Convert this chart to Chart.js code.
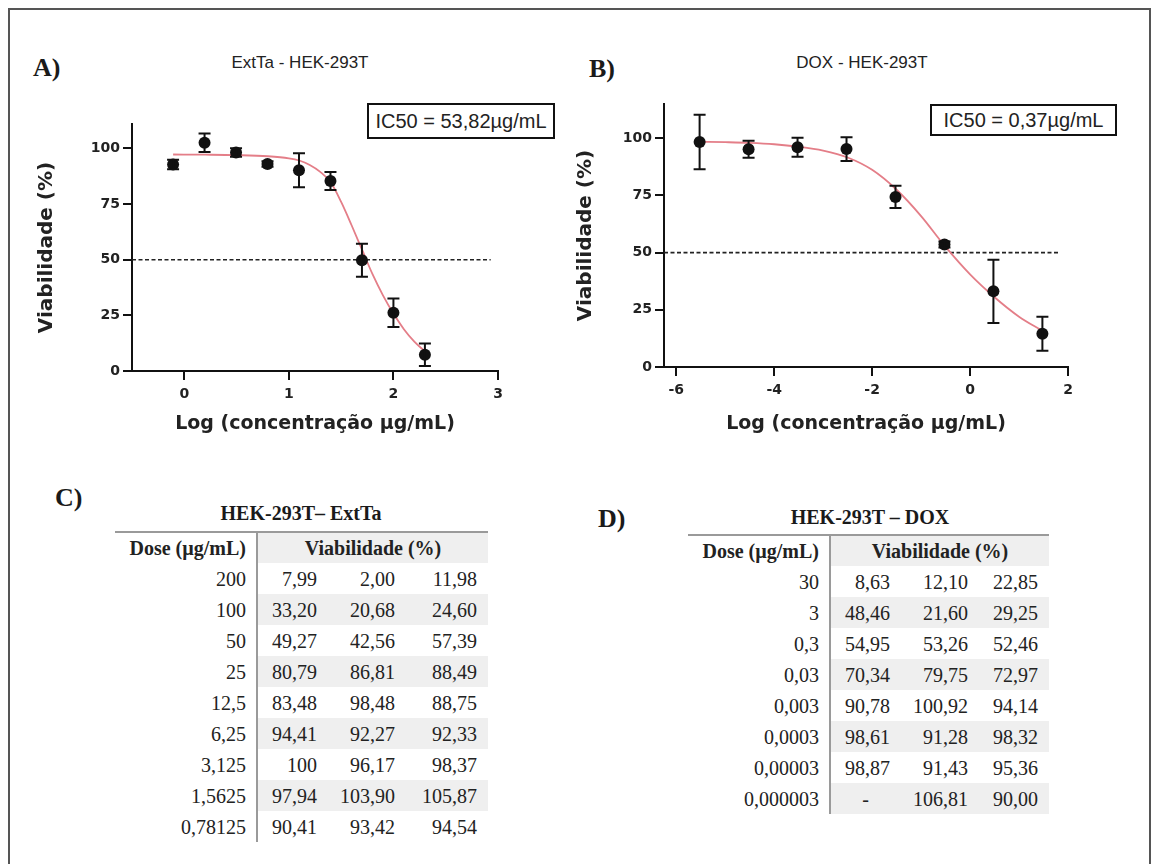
<!DOCTYPE html>
<html lang="pt">
<head>
<meta charset="utf-8">
<title>Viabilidade HEK-293T – ExtTa e DOX</title>
<script src="https://cdn.jsdelivr.net/npm/chart.js@4.4.1/dist/chart.umd.min.js"></script>
<style>
  html, body { margin: 0; padding: 0; background: #fff; }
  body { width: 1156px; height: 864px; position: relative; overflow: hidden; }
  .frame { position: absolute; left: 8px; top: 8px; width: 1143px; height: 900px;
           border: 2px solid #555; box-sizing: border-box; }
  .panel { position: absolute; font-family: "Liberation Serif", "Times New Roman", serif;
           font-weight: bold; font-size: 26px; color: #1a1a1a; line-height: 1; }
  .ctitle { position: absolute; font-family: "Liberation Sans", Arial, sans-serif; font-size: 17px;
            color: #222; line-height: 1; white-space: nowrap; transform: translateX(-50%); }
  .ic50 { position: absolute; border: 2px solid #111; box-sizing: border-box;
          font-family: "Liberation Sans", Arial, sans-serif; font-size: 20px; color: #222;
          display: flex; align-items: center; justify-content: center; white-space: nowrap; }
  .chartbox { position: absolute; }
  .ttitle { position: absolute; font-family: "Liberation Serif", "Times New Roman", serif;
            font-weight: bold; font-size: 20px; color: #1a1a1a; line-height: 1;
            white-space: nowrap; transform: translateX(-50%); }
  table.dose { position: absolute; border-collapse: collapse; table-layout: fixed;
               font-family: "Liberation Serif", "Times New Roman", serif; font-size: 20px; color: #222;
               border-top: 2px solid #9a9a9a; }
  table.dose td, table.dose th { padding: 0; text-align: right; white-space: nowrap; line-height: 1; }
  table.dose th { font-weight: bold; height: 30px; }
  table.dose td { height: 31px; }
  table.dose .dose-col { padding-right: 10px; }
  table.dose .v1 { padding-right: 10px; border-left: 2px solid #9a9a9a; }
  table.dose .v2 { padding-right: 10px; }
  table.dose .v3 { padding-right: 11px; }
  table.dose th.viab { text-align: center; background: #efefef; border-left: 2px solid #9a9a9a; }
  table.dose tr.shade td.v1, table.dose tr.shade td.v2, table.dose tr.shade td.v3 { background: #efefef; }
  table.dose td.na { text-align: center; padding-right: 0; }
</style>
</head>
<body>
<div class="frame"></div>

<div class="panel" style="left:33px; top:55px;">A)</div>
<div class="ctitle" style="left:300px; top:54px;">ExtTa - HEK-293T</div>
<div class="ic50" style="left:367px; top:103px; width:188px; height:36px;" id="ic50A"></div>
<div class="chartbox" style="left:30px; top:100px;"><canvas id="chartA" width="500" height="345"></canvas></div>

<div class="panel" style="left:589px; top:56px;">B)</div>
<div class="ctitle" style="left:862px; top:54px;">DOX - HEK-293T</div>
<div class="ic50" style="left:930px; top:104px; width:187px; height:32px;" id="ic50B"></div>
<div class="chartbox" style="left:560px; top:80px;"><canvas id="chartB" width="540" height="365"></canvas></div>

<div class="panel" style="left:55px; top:485px;">C)</div>
<div class="ttitle" style="left:301px; top:503px;" id="titleC"></div>
<table class="dose" id="tableC" style="left:115px; top:531px; width:373px;">
  <colgroup><col style="width:142px"><col style="width:70px"><col style="width:78px"><col style="width:83px"></colgroup>
</table>

<div class="panel" style="left:598px; top:506px;">D)</div>
<div class="ttitle" style="left:870px; top:507px;" id="titleD"></div>
<table class="dose" id="tableD" style="left:688px; top:534px; width:361px;">
  <colgroup><col style="width:142px"><col style="width:70px"><col style="width:78px"><col style="width:71px"></colgroup>
</table>

<script>
// ---- ExtTa: doses (µg/mL) and viability replicates (%) ----
const extDoses = ['200', '100', '50', '25', '12,5', '6,25', '3,125', '1,5625', '0,78125'];
const extRep1  = ['7,99', '33,20', '49,27', '80,79', '83,48', '94,41', '100', '97,94', '90,41'];
const extRep2  = ['2,00', '20,68', '42,56', '86,81', '98,48', '92,27', '96,17', '103,90', '93,42'];
const extRep3  = ['11,98', '24,60', '57,39', '88,49', '88,75', '92,33', '98,37', '105,87', '94,54'];

// ---- DOX: doses (µg/mL) and viability replicates (%) ----
const doxDoses = ['30', '3', '0,3', '0,03', '0,003', '0,0003', '0,00003', '0,000003'];
const doxRep1  = ['8,63', '48,46', '54,95', '70,34', '90,78', '98,61', '98,87', '-'];
const doxRep2  = ['12,10', '21,60', '53,26', '79,75', '100,92', '91,28', '91,43', '106,81'];
const doxRep3  = ['22,85', '29,25', '52,46', '72,97', '94,14', '98,32', '95,36', '90,00'];

// ---- fitted dose-response curves (log10 dose, viability %) ----
const extFitLog = [-0.107, 0.2, 0.5, 0.8, 1.0, 1.1, 1.2, 1.3, 1.4, 1.5, 1.6, 1.7, 1.8, 1.9, 2.0, 2.1, 2.2, 2.301];
const extFitVia = [97.3, 97.2, 97.0, 96.5, 95.6, 94.6, 92.6, 89.5, 84.8, 76.0, 65.5, 54.5, 43.5, 34.0, 25.8, 18.8, 13.2, 8.8];
const doxFitLog = [-5.52, -5.0, -4.5, -4.0, -3.5, -3.0, -2.5, -2.0, -1.5, -1.0, -0.5, 0.0, 0.5, 1.0, 1.477];
const doxFitVia = [98.5, 98.3, 98.0, 97.4, 96.3, 94.6, 91.6, 86.2, 77.5, 66.0, 52.5, 40.5, 30.5, 22.0, 15.8];

// ---- IC50 annotations and 50 % reference line ----
const ic50Labels = ['IC50 = 53,82µg/mL', 'IC50 = 0,37µg/mL'];
const halfViability = 50;
const extHalfLineX = [-0.5, 2.93];
const doxHalfLineX = [-6.25, 1.82];

// ---- axis ranges and tick values ----
const viaTicks = [0, 25, 50, 75, 100];
const extLogTicks = [0, 1, 2, 3];
const doxLogTicks = [-6, -4, -2, 0, 2];
const extRange = { xMin: -0.5, xMax: 3, yMax: 111 };
const doxRange = { xMin: -6.25, xMax: 2, yMax: 115 };

const tableTitles = ['HEK-293T– ExtTa', 'HEK-293T – DOX'];

// ---------------------------------------------------------------
const num = s => (s === '-' ? null : parseFloat(s.replace(',', '.')));

function summarize(doses, reps) {
  return doses.map((d, i) => {
    const vals = reps.map(r => num(r[i])).filter(v => v !== null);
    const mean = vals.reduce((a, b) => a + b, 0) / vals.length;
    const sd = Math.sqrt(vals.reduce((a, b) => a + (b - mean) ** 2, 0) / (vals.length - 1));
    return { x: Math.log10(num(d)), y: mean, sd: sd };
  });
}

const errorBars = {
  id: 'errorBars',
  afterDatasetsDraw(chart) {
    const ctx = chart.ctx, ys = chart.scales.y;
    chart.data.datasets.forEach((ds, i) => {
      if (!ds.withErrors) return;
      const meta = chart.getDatasetMeta(i);
      meta.data.forEach((pt, j) => {
        const d = ds.data[j];
        const top = ys.getPixelForValue(d.y + d.sd);
        const bot = ys.getPixelForValue(d.y - d.sd);
        const cap = 6;
        ctx.save();
        ctx.strokeStyle = '#111';
        ctx.lineWidth = 2;
        ctx.beginPath();
        ctx.moveTo(pt.x, top); ctx.lineTo(pt.x, bot);
        ctx.moveTo(pt.x - cap, top); ctx.lineTo(pt.x + cap, top);
        ctx.moveTo(pt.x - cap, bot); ctx.lineTo(pt.x + cap, bot);
        ctx.stroke();
        ctx.restore();
      });
    });
  }
};

function axisFont(size) { return { family: 'DejaVu Sans', weight: 'bold', size: size }; }

function buildChart(id, points, fitX, fitY, halfX, range, xTicks, geo) {
  return new Chart(document.getElementById(id), {
    type: 'scatter',
    data: {
      datasets: [
        { data: points, withErrors: true, pointRadius: 6, pointHoverRadius: 6,
          backgroundColor: '#111', borderWidth: 0, order: 0 },
        { data: fitX.map((x, i) => ({ x: x, y: fitY[i] })), showLine: true, pointRadius: 0,
          borderColor: 'rgb(228,126,136)', borderWidth: 1.8, cubicInterpolationMode: 'monotone', order: 1 },
        { data: halfX.map(x => ({ x: x, y: halfViability })), showLine: true, pointRadius: 0,
          borderColor: '#222', borderWidth: 1.6, borderDash: [4, 2.5], order: 2 }
      ]
    },
    options: {
      responsive: false, animation: false, events: [],
      layout: { padding: { top: geo.padTop, right: geo.padRight, left: 0, bottom: 0 } },
      plugins: { legend: { display: false }, tooltip: { enabled: false } },
      scales: {
        x: {
          type: 'linear', min: range.xMin, max: range.xMax,
          afterBuildTicks: s => { s.ticks = xTicks.map(v => ({ value: v })); },
          afterFit: s => { s.height = geo.xHeight; },
          grid: { drawOnChartArea: false, drawTicks: true, tickLength: 9, color: '#111', lineWidth: 2 },
          border: { display: true, color: '#111', width: 2 },
          ticks: { color: '#222', font: axisFont(14), padding: 6, callback: v => String(v) },
          title: { display: true, text: 'Log (concentração µg/mL)', color: '#222', font: axisFont(19),
                   padding: { top: 0, bottom: geo.xTitlePad } }
        },
        y: {
          type: 'linear', min: 0, max: range.yMax,
          afterBuildTicks: s => { s.ticks = viaTicks.map(v => ({ value: v })); },
          afterFit: s => { s.width = geo.yWidth; },
          grid: { drawOnChartArea: false, drawTicks: true, tickLength: 9, color: '#111', lineWidth: 2 },
          border: { display: true, color: '#111', width: 2 },
          ticks: { color: '#222', font: axisFont(14), padding: 3, callback: v => String(v) },
          title: { display: true, text: 'Viabilidade (%)', color: '#222', font: axisFont(20),
                   padding: { top: geo.yTitlePad, bottom: 0 } }
        }
      }
    },
    plugins: [errorBars]
  });
}

buildChart('chartA', summarize(extDoses, [extRep1, extRep2, extRep3]), extFitLog, extFitVia,
           extHalfLineX, extRange, extLogTicks,
           { padTop: 24, padRight: 32, xHeight: 74, yWidth: 102, xTitlePad: 10, yTitlePad: 5 });
buildChart('chartB', summarize(doxDoses, [doxRep1, doxRep2, doxRep3]), doxFitLog, doxFitVia,
           doxHalfLineX, doxRange, doxLogTicks,
           { padTop: 24, padRight: 32, xHeight: 78, yWidth: 104, xTitlePad: 10, yTitlePad: 14 });

document.getElementById('ic50A').textContent = ic50Labels[0];
document.getElementById('ic50B').textContent = ic50Labels[1];

// ---- tables of replicates ----
function fillTable(id, titleId, title, doses, reps) {
  document.getElementById(titleId).textContent = title;
  const t = document.getElementById(id);
  const head = t.insertRow();
  const h1 = document.createElement('th'); h1.className = 'dose-col'; h1.textContent = 'Dose (µg/mL)';
  const h2 = document.createElement('th'); h2.className = 'viab'; h2.colSpan = 3; h2.textContent = 'Viabilidade (%)';
  head.appendChild(h1); head.appendChild(h2);
  doses.forEach((d, i) => {
    const r = t.insertRow();
    if (i % 2 === 1) r.className = 'shade';
    const c0 = r.insertCell(); c0.className = 'dose-col'; c0.textContent = d;
    reps.forEach((rep, k) => {
      const c = r.insertCell();
      c.className = 'v' + (k + 1) + (rep[i] === '-' ? ' na' : '');
      c.textContent = rep[i];
    });
  });
}
fillTable('tableC', 'titleC', tableTitles[0], extDoses, [extRep1, extRep2, extRep3]);
fillTable('tableD', 'titleD', tableTitles[1], doxDoses, [doxRep1, doxRep2, doxRep3]);
</script>
</body>
</html>
